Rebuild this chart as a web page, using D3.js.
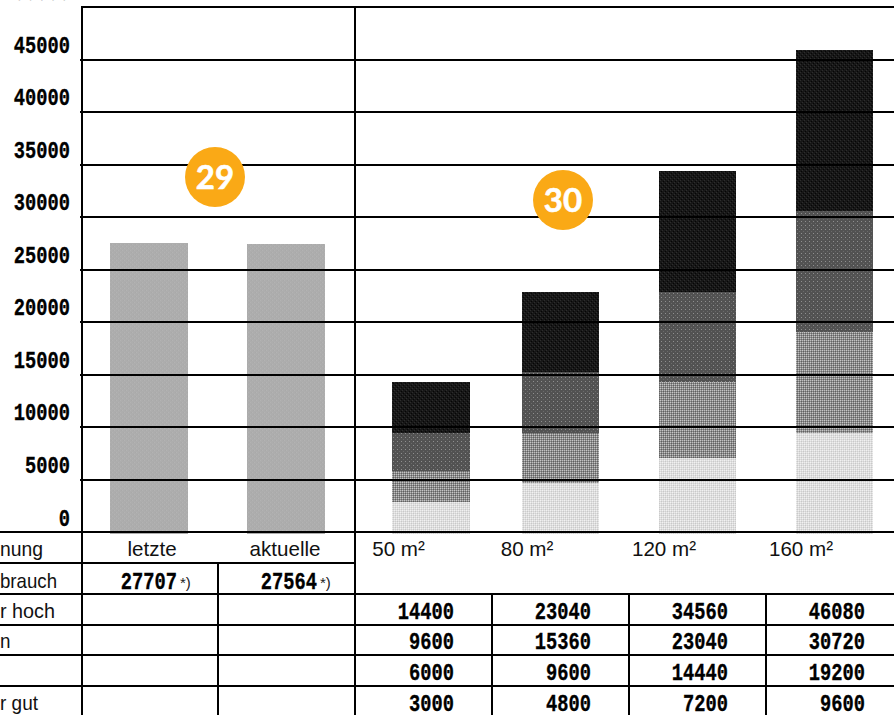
<!DOCTYPE html>
<html><head><meta charset="utf-8">
<script src="https://cdn.jsdelivr.net/npm/d3@7"></script>
<style>html,body{margin:0;padding:0;background:#fff;overflow:hidden}svg{display:block}</style>
</head><body><svg id="c" width="894" height="715"></svg>
<script>
const categories = ["letzte","aktuelle","50 m²","80 m²","120 m²","160 m²"];
const consumption = [27707,27564];
const sehrHoch = [14400,23040,34560,46080];
const hoch = [9600,15360,23040,30720];
const mittel = [6000,9600,14440,19200];
const sehrGut = [3000,4800,7200,9600];
const yTicks = [0,5000,10000,15000,20000,25000,30000,35000,40000,45000,50000];
const rowLabels = ["nung","brauch","r hoch","n","r gut"];
const areas = categories.slice(2);
const badges = [["29",215,177],["30",563,200]];

const svg = d3.select("#c");
const y = d3.scaleLinear().domain([0,50000]).range([532.2,7]);
const yBar = d3.scaleLinear().domain([0,46080]).range([533.5,50]);
const xBar = d3.scaleOrdinal().domain(categories).range([149,286,431,560.5,697.5,834.5]);
const xLabel = d3.scaleOrdinal().domain(categories).range([152,285,398.5,527,664,801]);
const barW = 77.5;

// textures
const defs = svg.append("defs");
function pat(id, size, base, cells){
  const p = defs.append("pattern").attr("id",id).attr("patternUnits","userSpaceOnUse").attr("width",size).attr("height",size);
  p.append("rect").attr("width",size).attr("height",size).attr("fill",base);
  cells.forEach(c=>p.append("rect").attr("x",c[0]).attr("y",c[1]).attr("width",1).attr("height",1).attr("fill",c[2]));
}
pat("pLight",4,"#dedede",[[0,0,"#f2f2f2"],[2,0,"#ececec"],[1,1,"#c8c8c8"],[3,1,"#cecece"],[0,2,"#eeeeee"],[2,2,"#f2f2f2"],[1,3,"#cecece"],[3,3,"#c8c8c8"]]);
pat("pMid",4,"#8c8c8c",[[0,0,"#c8c8c8"],[2,0,"#bebebe"],[1,1,"#5e5e5e"],[3,1,"#666"],[0,2,"#bebebe"],[2,2,"#c8c8c8"],[1,3,"#666"],[3,3,"#5e5e5e"]]);
pat("pDark",4,"#525252",[[1,1,"#8f8f8f"],[3,3,"#6a6a6a"]]);
pat("pBlack",4,"#171717",[[0,0,"#2d2d2d"],[2,2,"#2d2d2d"],[1,3,"#050505"],[3,1,"#050505"]]);
pat("pGray",4,"#adadad",[[0,0,"#b3b3b3"],[2,2,"#b3b3b3"],[1,2,"#a9a9a9"],[3,0,"#a9a9a9"]]);

const left = c => Math.round(xBar(c)-barW/2);
const width = c => Math.round(xBar(c)+barW/2)-left(c);

// single bars
svg.append("g").selectAll("rect").data(consumption).join("rect")
  .attr("x",(d,i)=>left(categories[i])).attr("width",(d,i)=>width(categories[i]))
  .attr("y",d=>Math.round(yBar(d))).attr("height",d=>Math.round(yBar(0))-Math.round(yBar(d))).attr("fill","url(#pGray)");

// stacked bars: each series is the upper bound of one band, the next series its lower bound
const zeros = areas.map(()=>0);
const levels = [[sehrHoch,hoch,"url(#pBlack)"],[hoch,mittel,"url(#pDark)"],[mittel,sehrGut,"url(#pMid)"],[sehrGut,zeros,"url(#pLight)"]];
levels.forEach(([vals,below,fill])=>{
  svg.append("g").selectAll("rect").data(vals).join("rect")
    .attr("x",(d,i)=>left(areas[i])).attr("width",(d,i)=>width(areas[i]))
    .attr("y",d=>Math.round(yBar(d)))
    .attr("height",(d,i)=>Math.round(yBar(below[i]))-Math.round(yBar(d))).attr("fill",fill);
});

// gridlines
const lw=2;
const line=(x1,y1,x2,y2)=>svg.append("line").attr("x1",x1).attr("y1",y1).attr("x2",x2).attr("y2",y2).attr("stroke","#000").attr("stroke-width",lw);
svg.append("g").selectAll("line").data(yTicks).join("line")
  .attr("x1",d=>d===50000?81:80).attr("x2",894).attr("y1",d=>Math.round(y(d))).attr("y2",d=>Math.round(y(d))).attr("stroke","#000").attr("stroke-width",lw);

// y tick labels
const mono = (sel,x,yy,txt,sx)=>sel.append("text")
  .attr("transform",`translate(${x},${yy}) scale(${sx||0.78},1)`).attr("text-anchor","end")
  .attr("font-family","'Liberation Mono',monospace").attr("font-weight","700").attr("font-size",24)
  .attr("stroke","#000").attr("stroke-width",0.35).attr("fill","#000").text(txt);
yTicks.forEach(t=>mono(svg,70,y(t)-7+(t===0?1:0),String(t)));

// table rules
const rows=[563,594,625,655,686];
line(0,532,894,532);
line(0,563,355,563);
rows.slice(1).forEach(r=>line(0,r,894,r));
line(82,6,82,715);
line(355,6,355,715);
line(218,563,218,715);
[492,629,766].forEach(x=>line(x,594,x,715));

// category labels
const sans="'Liberation Sans',Arial,sans-serif";
svg.append("g").selectAll("text").data(categories).join("text")
  .attr("x",d=>xLabel(d)).attr("y",556).attr("text-anchor","middle")
  .attr("font-family",sans).attr("font-size",20.6).attr("fill","#111").text(d=>d);

// row label fragments, as far as they are visible in the picture
const rowY=[556,588,618,648,710];
const rowW=[43,57,55,10.5,38];
rowLabels.forEach((t,i)=>svg.append("text").attr("x",0).attr("y",rowY[i])
  .attr("textLength",rowW[i]).attr("lengthAdjust","spacingAndGlyphs")
  .attr("font-family",sans).attr("font-size",20.6).attr("fill","#111").text(t));

// consumption row
consumption.forEach((v,i)=>{
  const xr=[177,317][i];
  mono(svg,xr,589,String(v));
  svg.append("text").attr("x",xr+3).attr("y",588).attr("font-family",sans).attr("font-size",15).attr("fill","#222").text("*)");
});

// value table
const tableRight = d3.scaleOrdinal().domain(areas).range([454,591,728,865]);
[sehrHoch,hoch,mittel,sehrGut].forEach((vals,r)=>{
  vals.forEach((v,i)=>mono(svg,tableRight(areas[i]),[619,649,680,711][r],String(v)));
});

// badges
badges.forEach(([t,cx,cy])=>{
  svg.append("circle").attr("cx",cx).attr("cy",cy).attr("r",30).attr("fill","#FAA916");
  svg.append("text").attr("x",cx).attr("y",cy+11.5).attr("text-anchor","middle")
    .attr("font-family","Lato,'Open Sans',sans-serif").attr("font-weight","700").attr("font-size",33)
    .attr("stroke","#fff").attr("stroke-width",0.6).attr("fill","#fff").text(t);
});
</script></body></html>
